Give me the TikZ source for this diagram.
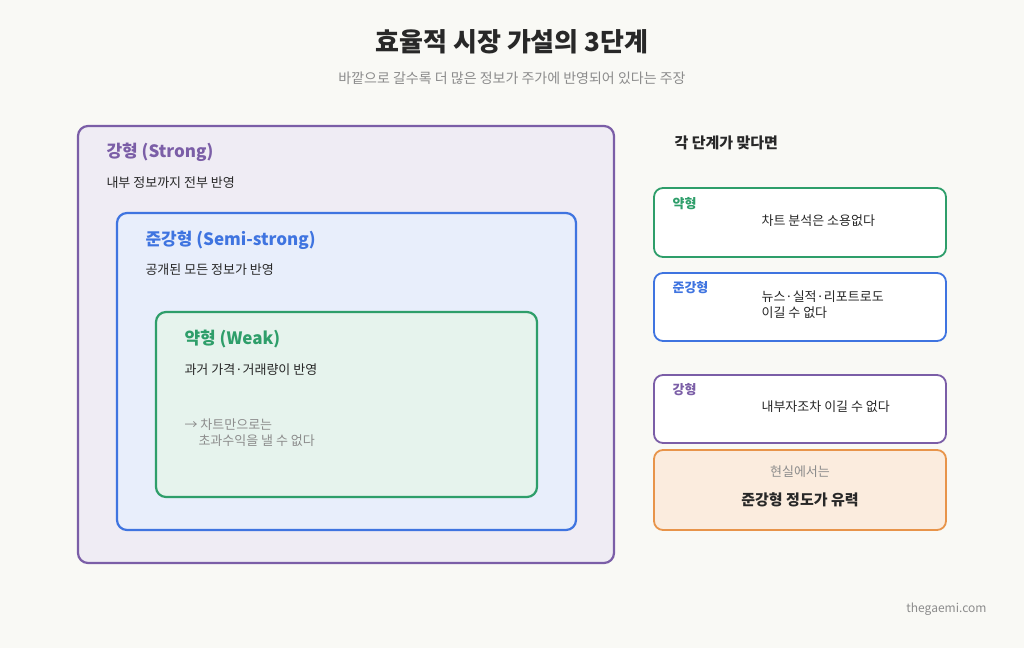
\documentclass[tikz,border=0pt]{standalone}
\usepackage{fontspec}
\setmainfont{Noto Sans CJK KR}
\definecolor{bgcol}{RGB}{249,249,245}
\definecolor{strongcol}{RGB}{123,94,167}
\definecolor{semicol}{RGB}{63,116,224}
\definecolor{weakcol}{RGB}{46,158,106}
\definecolor{realcol}{RGB}{232,148,74}
\definecolor{textcol}{RGB}{40,40,40}
\definecolor{graycol}{RGB}{140,140,140}
\usetikzlibrary{positioning}
\tikzset{
    level/.style={draw=#1, fill=#1!12, line width=2.2pt, rounded corners=10pt},
    card/.style={draw=#1, fill=white, line width=1.8pt, rounded corners=9pt},
    head/.style={anchor=west, font=\fontsize{17}{20}\selectfont\bfseries},
    body/.style={anchor=west, font=\fontsize{13}{16}\selectfont, text=textcol},
    tag/.style={anchor=west, font=\fontsize{13}{16}\selectfont\bfseries}
}
\begin{document}
\begin{tikzpicture}[x=1pt, y=-1pt]
    \fill[bgcol] (0,0) rectangle (1024,648);
    \useasboundingbox (0,0) rectangle (1024,648);

    % Title
    \node[font=\fontsize{26}{30}\selectfont\bfseries, text=textcol] (title) at (512,42) {효율적 시장 가설의 3단계};
    \node[font=\fontsize{14}{17}\selectfont, text=graycol] (subtitle) at (512,78) {바깥으로 갈수록 더 많은 정보가 주가에 반영되어 있다는 주장};

    % Nested levels
    \draw[level=strongcol] (78,126) rectangle (614,563);
    \node[head, text=strongcol] (strong) at (103,152) {강형 (Strong)};
    \node[body] (strongtxt) at (103,183) {내부 정보까지 전부 반영};

    \draw[level=semicol] (117,213) rectangle (576,530);
    \node[head, text=semicol] (semi) at (142,240) {준강형 (Semi-strong)};
    \node[body] (semitxt) at (142,270) {공개된 모든 정보가 반영};

    \draw[level=weakcol] (156,312) rectangle (537,497);
    \node[head, text=weakcol] (weak) at (181,339) {약형 (Weak)};
    \node[body] (weaktxt) at (181,370) {과거 가격·거래량이 반영};
    \node[body, text=graycol, align=left] (weaknote) at (181,433) {→ 차트만으로는\\\hspace*{14pt}초과수익을 낼 수 없다};

    % Right panel
    \node[anchor=west, font=\fontsize{15}{18}\selectfont\bfseries, text=textcol] (panel) at (671,143) {각 단계가 맞다면};

    \draw[card=weakcol] (654,188) rectangle (946,257);
    \node[tag, text=weakcol] (weaktag) at (669,204) {약형};
    \node[body] (weakres) at (758,221) {차트 분석은 소용없다};

    \draw[card=semicol] (654,273) rectangle (946,341);
    \node[tag, text=semicol] (semitag) at (669,288) {준강형};
    \node[body, align=left] (semires) at (758,305) {뉴스·실적·리포트로도\\이길 수 없다};

    \draw[card=strongcol] (654,375) rectangle (946,443);
    \node[tag, text=strongcol] (strongtag) at (669,390) {강형};
    \node[body] (strongres) at (758,407) {내부자조차 이길 수 없다};

    \draw[card=realcol, fill=realcol!18] (654,450) rectangle (946,530);
    \node[font=\fontsize{13}{16}\selectfont, text=graycol] (realnote) at (800,472) {현실에서는};
    \node[font=\fontsize{15}{18}\selectfont\bfseries, text=textcol] (realres) at (800,500) {준강형 정도가 유력};

    % Footer
    \node[anchor=east, font=\fontsize{12}{14}\selectfont, text=graycol] (site) at (990,609) {thegaemi.com};
\end{tikzpicture}
\end{document}
